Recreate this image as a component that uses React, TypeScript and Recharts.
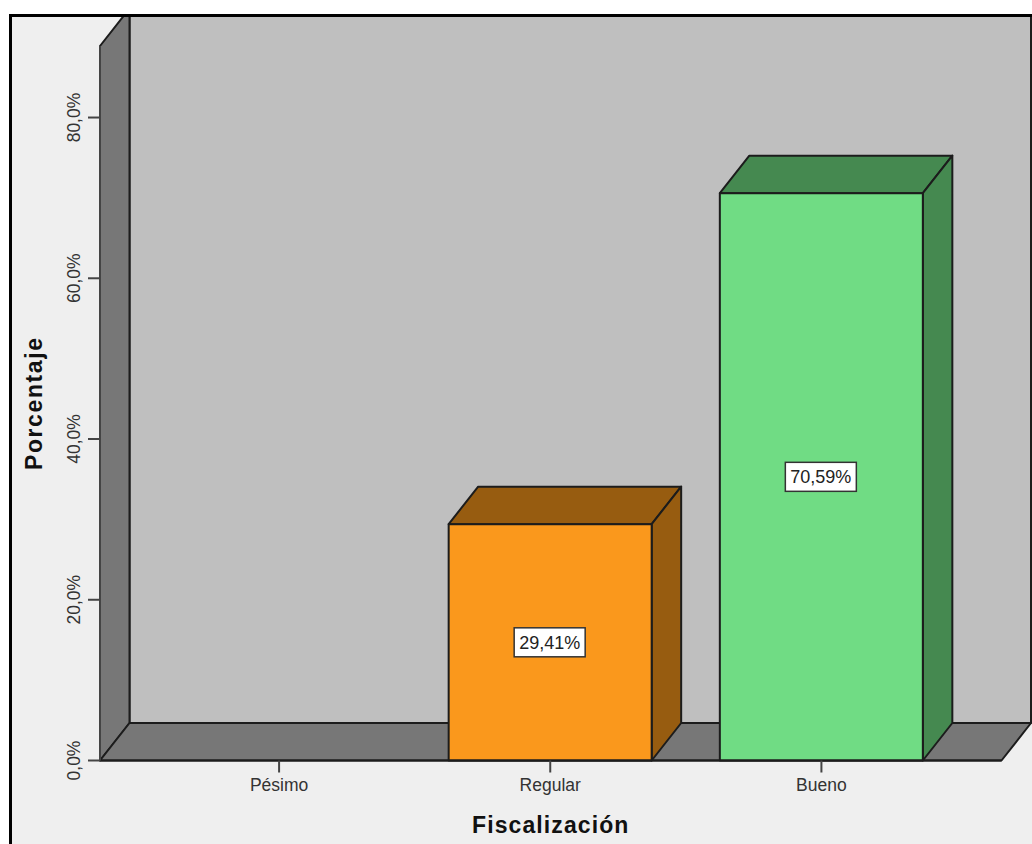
import React from "react";
import { BarChart, Bar, XAxis, YAxis, LabelList, usePlotArea } from "recharts";

const categories = ["Pésimo", "Regular", "Bueno"];
const percentages = [0, 29.41, 70.59];
const yTicks = [0, 20, 40, 60, 80];
const faceColors = ["#fa981c", "#fa981c", "#70dc84"];
const shadeColors = ["#975c10", "#975c10", "#458950"];

const chartData = categories.map((name, i) => ({
    name,
    value: percentages[i],
    face: faceColors[i],
    shade: shadeColors[i],
}));

// depth of the fake 3D extrusion
const DX = 29.5;
const DY = 37.5;
const EDGE = "#1c1c1c";
const FONT = "'Liberation Sans', Arial, sans-serif";

// side wall, back wall and floor behind the bars
function Walls() {
    const plot = usePlotArea();
    if (!plot) return null;
    const { x, y, width, height } = plot;
    const r = x + width;
    const b = y + height;
    const pts = (list: number[][]) => list.map((p) => p.join(",")).join(" ");
    return (
        <g stroke={EDGE} strokeWidth={2} strokeLinejoin="round">
            <rect x={x + DX} y={y - DY} width={width} height={height} fill="#bfbfbf" />
            <polygon
                points={pts([[x, y], [x + DX, y - DY], [x + DX, b - DY], [x, b]])}
                fill="#777777"
            />
            <polygon
                points={pts([[x, b], [r, b], [r + DX, b - DY], [x + DX, b - DY]])}
                fill="#777777"
            />
        </g>
    );
}

function Box3D(props: any) {
    const { x, y, width, height, face, shade } = props;
    if (!height) return null;
    const r = x + width;
    const b = y + height;
    return (
        <g stroke={EDGE} strokeWidth={2} strokeLinejoin="round">
            <polygon
                points={`${x},${y} ${x + DX},${y - DY} ${r + DX},${y - DY} ${r},${y}`}
                fill={shade}
            />
            <polygon
                points={`${r},${y} ${r + DX},${y - DY} ${r + DX},${b - DY} ${r},${b}`}
                fill={shade}
            />
            <rect x={x} y={y} width={width} height={height} fill={face} />
        </g>
    );
}

function ValueBox(props: any) {
    const { x, y, width, height, value } = props;
    if (!value) return null;
    const cx = x + width / 2;
    const cy = y + height / 2;
    return (
        <g>
            <rect
                x={cx - 36}
                y={cy - 14.5}
                width={71}
                height={29}
                fill="#ffffff"
                stroke="#333333"
                strokeWidth={1.5}
            />
            <text
                x={cx - 0.5}
                y={cy + 6.5}
                textAnchor="middle"
                fontFamily={FONT}
                fontSize={18}
                fill="#222222"
            >
                {value.toFixed(2).replace(".", ",")}%
            </text>
        </g>
    );
}

function RotatedTick(props: any) {
    const { x, y, payload } = props;
    const px = x - 12;
    return (
        <text
            x={px}
            y={y}
            transform={`rotate(-90, ${px}, ${y})`}
            textAnchor="middle"
            dominantBaseline="central"
            fontFamily={FONT}
            fontSize={17.5}
            fill="#333333"
        >
            {payload.value.toFixed(1).replace(".", ",")}%
        </text>
    );
}

export default function App() {
    return (
        <div style={{ position: "absolute", left: 0, top: 0, width: 1032, height: 844, background: "#ffffff" }}>
            <div
                style={{
                    position: "absolute",
                    left: 9,
                    top: 14,
                    width: 1023,
                    height: 830,
                    boxSizing: "border-box",
                    borderLeft: "3px solid #000",
                    borderTop: "3px solid #000",
                    background: "#efefef",
                    overflow: "hidden",
                }}
            >
                <div style={{ position: "absolute", left: -12, top: -17 }}>
                    <BarChart
                        width={1032}
                        height={844}
                        data={chartData}
                        margin={{ top: 46, right: 30.5, bottom: 0, left: 0 }}
                        barSize={203}
                    >
                        <Walls />
                        <XAxis
                            dataKey="name"
                            height={83.5}
                            padding={{ left: 43.5, right: 44.5 }}
                            axisLine={{ stroke: EDGE, strokeWidth: 2 }}
                            tickLine={{ stroke: "#444444", strokeWidth: 2 }}
                            tickSize={12}
                            tickMargin={6}
                            tick={{ fill: "#333333", fontSize: 17.5, fontFamily: FONT }}
                            label={{
                                value: "Fiscalización",
                                position: "insideBottom",
                                offset: 11,
                                fill: "#111111",
                                fontSize: 23,
                                fontWeight: 700,
                                fontFamily: FONT,
                                letterSpacing: 1.1,
                            }}
                        />
                        <YAxis
                            width={100}
                            domain={[0, 88.9]}
                            ticks={yTicks}
                            axisLine={{ stroke: "#444444", strokeWidth: 2 }}
                            tickLine={{ stroke: "#444444", strokeWidth: 2 }}
                            tickSize={12}
                            tick={<RotatedTick />}
                            label={{
                                value: "Porcentaje",
                                angle: -90,
                                position: "insideLeft",
                                offset: 34,
                                textAnchor: "middle",
                                fill: "#111111",
                                fontSize: 23,
                                fontWeight: 700,
                                fontFamily: FONT,
                                letterSpacing: 1.6,
                            }}
                        />
                        <Bar dataKey="value" shape={<Box3D />} isAnimationActive={false}>
                            <LabelList dataKey="value" content={<ValueBox />} />
                        </Bar>
                    </BarChart>
                </div>
            </div>
        </div>
    );
}
